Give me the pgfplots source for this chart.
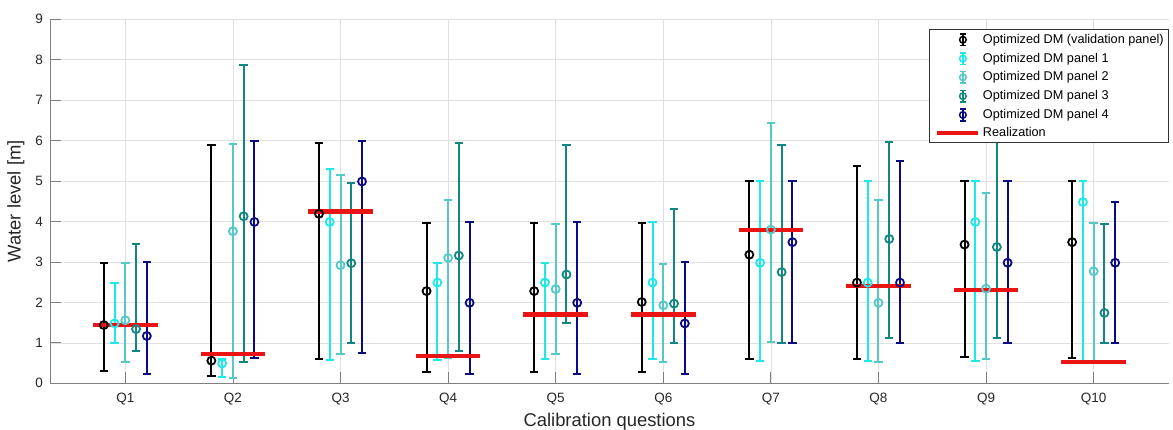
\documentclass[border=0pt]{standalone}
\usepackage{pgfplots}
\pgfplotsset{compat=1.18}
\usepackage{pgfplotstable}
\usepackage{fontspec}
\setmainfont{Liberation Sans}
\definecolor{cval}{RGB}{0,0,0}
\definecolor{cpa}{RGB}{30,232,232}
\definecolor{cpb}{RGB}{85,200,200}
\definecolor{cpc}{RGB}{18,135,130}
\definecolor{cpd}{RGB}{10,10,130}
\definecolor{creal}{RGB}{235,20,20}
\definecolor{axgray}{RGB}{128,128,128}

% q lo y hi
\pgfplotstableread{
q lo y hi
1 0.31 1.44 2.97
2 0.18 0.56 5.88
3 0.60 4.19 5.95
4 0.29 2.28 3.96
5 0.29 2.28 3.96
6 0.27 2.01 3.97
7 0.61 3.18 5.00
8 0.61 2.49 5.38
9 0.64 3.43 5.00
10 0.62 3.49 5.00
}\tval
\pgfplotstableread{
q lo y hi
1 0.99 1.48 2.48
2 0.16 0.49 0.59
3 0.57 3.99 5.30
4 0.57 2.49 2.98
5 0.60 2.49 2.98
6 0.60 2.49 4.00
7 0.56 2.98 5.00
8 0.56 2.49 5.00
9 0.56 3.99 5.00
10 0.56 4.48 5.00
}\tpa
\pgfplotstableread{
q lo y hi
1 0.52 1.56 2.98
2 0.12 3.76 5.92
3 0.72 2.92 5.14
4 0.62 3.10 4.54
5 0.73 2.33 3.94
6 0.52 1.93 2.95
7 1.03 3.80 6.44
8 0.52 1.99 4.54
9 0.60 2.34 4.71
10 0.55 2.77 3.97
}\tpb
\pgfplotstableread{
q lo y hi
1 0.80 1.34 3.44
2 0.52 4.13 7.87
3 1.00 2.97 4.96
4 0.80 3.16 5.93
5 1.50 2.69 5.90
6 1.00 1.97 4.31
7 1.00 2.75 5.90
8 1.13 3.57 5.96
9 1.13 3.37 5.96
10 1.00 1.74 3.93
}\tpc
\pgfplotstableread{
q lo y hi
1 0.22 1.17 3.00
2 0.62 3.99 6.00
3 0.74 4.99 6.00
4 0.23 1.99 4.00
5 0.23 1.99 4.00
6 0.23 1.48 3.00
7 1.00 3.49 5.00
8 1.00 2.49 5.49
9 1.00 2.98 5.00
10 1.00 2.98 4.48
}\tpd

\pgfplotsset{
  errplot/.style={
    only marks, mark=o, mark size=4pt, forget plot,
    mark options={line width=1.8pt, solid},
    /pgfplots/error bars/y dir=both,
    /pgfplots/error bars/y explicit,
    /pgfplots/error bars/error bar style={line width=2pt},
    /pgfplots/error bars/error mark options={rotate=90, line width=2pt, mark size=4.2pt},
  },
  errleg/.style={legend image code/.code={
    \path[draw=none, fill=none] (0pt,0pt) -- (41pt,0pt);
    \draw[line width=1.7pt] (26pt,-5.8pt) -- (26pt,5.8pt);
    \draw[line width=1.7pt] (22.8pt,-5.8pt) -- (29.2pt,-5.8pt) (22.8pt,5.8pt) -- (29.2pt,5.8pt);
    \draw[line width=1.5pt, fill=none] (26pt,0pt) circle (3.3pt);
  }},
}

\begin{document}
\begin{tikzpicture}
\begin{axis}[
  scale only axis,
  width=1119pt, height=364pt,
  xmin=0.3, xmax=10.7, ymin=0, ymax=9,
  axis x line=bottom, axis y line=left,
  axis line style={-, draw=axgray, line width=0.8pt},
  tick align=inside,
  major tick length=11pt,
  tick style={draw=axgray, line width=0.8pt},
  xtick={1,2,3,4,5,6,7,8,9,10},
  xticklabels={Q1,Q2,Q3,Q4,Q5,Q6,Q7,Q8,Q9,Q10},
  ytick={0,1,2,3,4,5,6,7,8,9},
  grid=major,
  major grid style={draw=black!12, line width=0.7pt},
  /pgf/number format/assume math mode=true,
  ticklabel style={font=\fontsize{13.5}{16}\selectfont, text=black!85, inner sep=0pt},
  xticklabel shift=10pt,
  yticklabel shift=7pt,
  xlabel={Calibration questions},
  ylabel={Water level [m]},
  xlabel style={at={(axis description cs:0.5,-0.0824)}, anchor=north, inner sep=0pt, font=\fontsize{18.4}{22}\selectfont, text=black!85},
  ylabel style={at={(axis description cs:-0.0384,0.5)}, anchor=north, inner sep=0pt, font=\fontsize{18.4}{22}\selectfont, text=black!85},
  legend style={at={(axis description cs:1,0.9725)}, anchor=north east,
    draw=black!80, line width=0.6pt, fill=white,
    font=\fontsize{12.7}{15}\selectfont,
    inner xsep=5pt, inner ysep=3.5pt, row sep=5.5pt, column sep=3pt,
    nodes={inner sep=0pt, text height=9.5pt, text depth=2.5pt}},
  legend cell align=left,
]
\addplot[cval, errplot] table[x expr=\thisrow{q}-0.2, y=y,
  y error plus expr=\thisrow{hi}-\thisrow{y}, y error minus expr=\thisrow{y}-\thisrow{lo}] {\tval};
\addplot[cpa, errplot] table[x expr=\thisrow{q}-0.1, y=y,
  y error plus expr=\thisrow{hi}-\thisrow{y}, y error minus expr=\thisrow{y}-\thisrow{lo}] {\tpa};
\addplot[cpb, errplot] table[x expr=\thisrow{q}, y=y,
  y error plus expr=\thisrow{hi}-\thisrow{y}, y error minus expr=\thisrow{y}-\thisrow{lo}] {\tpb};
\addplot[cpc, errplot] table[x expr=\thisrow{q}+0.1, y=y,
  y error plus expr=\thisrow{hi}-\thisrow{y}, y error minus expr=\thisrow{y}-\thisrow{lo}] {\tpc};
\addplot[cpd, errplot] table[x expr=\thisrow{q}+0.2, y=y,
  y error plus expr=\thisrow{hi}-\thisrow{y}, y error minus expr=\thisrow{y}-\thisrow{lo}] {\tpd};
\addplot[creal, line width=4.2pt, unbounded coords=jump, forget plot]
  coordinates {
  (0.7,1.45) (1.3,1.45) (1.5,nan)
  (1.7,0.73) (2.3,0.73) (2.5,nan)
  (2.7,4.25) (3.3,4.25) (3.5,nan)
  (3.7,0.67) (4.3,0.67) (4.5,nan)
  (4.7,1.70) (5.3,1.70) (5.5,nan)
  (5.7,1.70) (6.3,1.70) (6.5,nan)
  (6.7,3.80) (7.3,3.80) (7.5,nan)
  (7.7,2.40) (8.3,2.40) (8.5,nan)
  (8.7,2.30) (9.3,2.30) (9.5,nan)
  (9.7,0.53) (10.3,0.53)
  };
\addlegendimage{cval, errleg}
\addlegendentry{Optimized DM (validation panel)}
\addlegendimage{cpa, errleg}
\addlegendentry{Optimized DM panel 1}
\addlegendimage{cpb, errleg}
\addlegendentry{Optimized DM panel 2}
\addlegendimage{cpc, errleg}
\addlegendentry{Optimized DM panel 3}
\addlegendimage{cpd, errleg}
\addlegendentry{Optimized DM panel 4}
\addlegendimage{creal, legend image code/.code={\draw[line width=4.2pt] (0pt,0pt) -- (41pt,0pt);}}
\addlegendentry{Realization}
\path (rel axis cs:0,0) coordinate (O);
\end{axis}
\pgfresetboundingbox
\path[use as bounding box] (O) ++(-50pt,-46.7pt) rectangle ++(1173pt,430pt);
\end{tikzpicture}
\end{document}
